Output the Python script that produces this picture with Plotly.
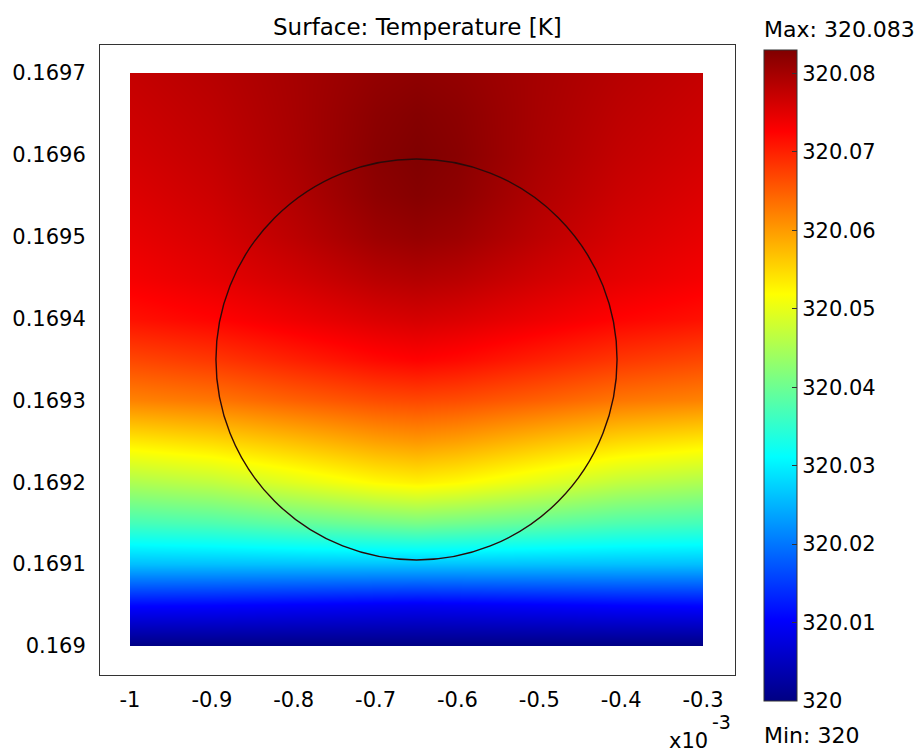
import plotly.graph_objects as go

# Grid coordinates: x in units of 1e-3 m, y in m
x_coords = [-1.0, -0.9, -0.8, -0.7, -0.65, -0.6, -0.5, -0.4, -0.3]
y_coords = [0.16900, 0.16905, 0.16910, 0.16915, 0.16920, 0.16925, 0.16930,
            0.16935, 0.16940, 0.16945, 0.16950, 0.16955, 0.16960, 0.16965, 0.16970]

# Temperature [K], one row per y value (bottom to top), one column per x value
T_y16900 = [320.0000, 320.0000, 320.0000, 320.0000, 320.0000, 320.0000, 320.0000, 320.0000, 320.0000]
T_y16905 = [320.0108, 320.0105, 320.0100, 320.0095, 320.0093, 320.0095, 320.0100, 320.0105, 320.0108]
T_y16910 = [320.0259, 320.0260, 320.0261, 320.0262, 320.0262, 320.0262, 320.0261, 320.0260, 320.0259]
T_y16915 = [320.0367, 320.0375, 320.0390, 320.0404, 320.0410, 320.0404, 320.0390, 320.0375, 320.0367]
T_y16920 = [320.0453, 320.0468, 320.0495, 320.0522, 320.0530, 320.0522, 320.0495, 320.0468, 320.0453]
T_y16925 = [320.0536, 320.0550, 320.0572, 320.0596, 320.0603, 320.0596, 320.0572, 320.0550, 320.0536]
T_y16930 = [320.0620, 320.0630, 320.0648, 320.0664, 320.0668, 320.0664, 320.0648, 320.0630, 320.0620]
T_y16935 = [320.0668, 320.0681, 320.0700, 320.0719, 320.0725, 320.0719, 320.0700, 320.0681, 320.0668]
T_y16940 = [320.0713, 320.0724, 320.0740, 320.0756, 320.0761, 320.0756, 320.0740, 320.0724, 320.0713]
T_y16945 = [320.0734, 320.0747, 320.0764, 320.0784, 320.0789, 320.0784, 320.0764, 320.0747, 320.0734]
T_y16950 = [320.0745, 320.0759, 320.0781, 320.0806, 320.0812, 320.0806, 320.0781, 320.0759, 320.0745]
T_y16955 = [320.0754, 320.0768, 320.0790, 320.0818, 320.0825, 320.0818, 320.0790, 320.0768, 320.0754]
T_y16960 = [320.0762, 320.0775, 320.0796, 320.0823, 320.0830, 320.0823, 320.0796, 320.0775, 320.0762]
T_y16965 = [320.0768, 320.0780, 320.0798, 320.0820, 320.0826, 320.0820, 320.0798, 320.0780, 320.0768]
T_y16970 = [320.0774, 320.0785, 320.0799, 320.0814, 320.0818, 320.0814, 320.0799, 320.0785, 320.0774]

temperature = [T_y16900, T_y16905, T_y16910, T_y16915, T_y16920, T_y16925, T_y16930,
               T_y16935, T_y16940, T_y16945, T_y16950, T_y16955, T_y16960, T_y16965, T_y16970]

# Circular subdomain boundary
circle_center = (-0.65, 0.16935)
circle_radius_x = 0.245      # 1e-3 m
circle_radius_y = 0.000245   # m

x_ticks = [-1, -0.9, -0.8, -0.7, -0.6, -0.5, -0.4, -0.3]
y_ticks = [0.169, 0.1691, 0.1692, 0.1693, 0.1694, 0.1695, 0.1696, 0.1697]
cbar_ticks = [320, 320.01, 320.02, 320.03, 320.04, 320.05, 320.06, 320.07, 320.08]

FONT = "DejaVu Sans"
FS = 21

jet = [[0.0, "rgb(0,0,131)"], [0.125, "rgb(0,0,255)"], [0.375, "rgb(0,255,255)"],
       [0.625, "rgb(255,255,0)"], [0.875, "rgb(255,0,0)"], [1.0, "rgb(128,0,0)"]]

t_min = min(min(r) for r in temperature)
t_max = max(max(r) for r in temperature)

fig = go.Figure()
fig.add_trace(go.Contour(
    x=x_coords, y=y_coords, z=temperature,
    colorscale=jet, zmin=t_min, zmax=t_max,
    contours=dict(coloring="heatmap", showlines=False),
    ncontours=60, line=dict(width=0),
    colorbar=dict(
        x=1.0457, xanchor="left", xpad=0,
        y=0.4754, yanchor="middle", ypad=0,
        len=651, lenmode="pixels", thickness=33,
        outlinewidth=1, outlinecolor="#333",
        tickvals=cbar_ticks, ticktext=[f"{v:g}" for v in cbar_ticks],
        ticks="inside", ticklen=5, tickcolor="#333",
        tickfont=dict(family=FONT, size=FS, color="black"),
    ),
    hoverinfo="skip",
))

fig.add_shape(type="circle", xref="x", yref="y",
              x0=circle_center[0] - circle_radius_x, x1=circle_center[0] + circle_radius_x,
              y0=circle_center[1] - circle_radius_y, y1=circle_center[1] + circle_radius_y,
              line=dict(color="#2a0a0a", width=1.4))

fig.update_xaxes(range=[-1.03665, -0.26091], tickvals=x_ticks,
                 ticktext=[f"{v:g}" for v in x_ticks],
                 showgrid=False, zeroline=False, showline=True, mirror=True,
                 linecolor="#333", linewidth=1, ticks="", ticklabelstandoff=6,
                 tickfont=dict(family=FONT, size=FS, color="black"))
fig.update_yaxes(range=[0.16896457, 0.1697342], tickvals=y_ticks,
                 ticktext=[f"{v:g}" for v in y_ticks],
                 showgrid=False, zeroline=False, showline=True, mirror=True,
                 linecolor="#333", linewidth=1, ticks="", ticklabelstandoff=9,
                 tickfont=dict(family=FONT, size=FS, color="black"))

fig.add_annotation(text="Surface: Temperature [K]", xref="paper", yref="paper",
                   x=0.5, y=1.0, yshift=3, xanchor="center", yanchor="bottom",
                   showarrow=False, font=dict(family=FONT, size=23, color="black"))
fig.add_annotation(text=f"Max: {t_max:.6g}", xref="paper", yref="paper",
                   x=1.043, y=1.0, yshift=1, xanchor="left", yanchor="bottom",
                   showarrow=False, font=dict(family=FONT, size=22, color="black"))
fig.add_annotation(text=f"Min: {t_min:.6g}", xref="paper", yref="paper",
                   x=1.043, y=0.0, yshift=-46, xanchor="left", yanchor="top",
                   showarrow=False, font=dict(family=FONT, size=22, color="black"))
# Axis multiplier "x10^-3" below the right end of the x axis
fig.add_annotation(text="x10", xref="paper", yref="paper",
                   x=0.960, y=0.0, yshift=-52, xanchor="right", yanchor="top",
                   showarrow=False, font=dict(family=FONT, size=FS, color="black"))
fig.add_annotation(text="-3", xref="paper", yref="paper",
                   x=0.960, y=0.0, yshift=-34, xanchor="left", yanchor="top",
                   showarrow=False, font=dict(family=FONT, size=19, color="black"))

fig.update_layout(
    width=919, height=752,
    margin=dict(l=100, r=184, t=45, b=77),
    paper_bgcolor="white", plot_bgcolor="white",
    showlegend=False,
)

fig.write_html("out.html")
